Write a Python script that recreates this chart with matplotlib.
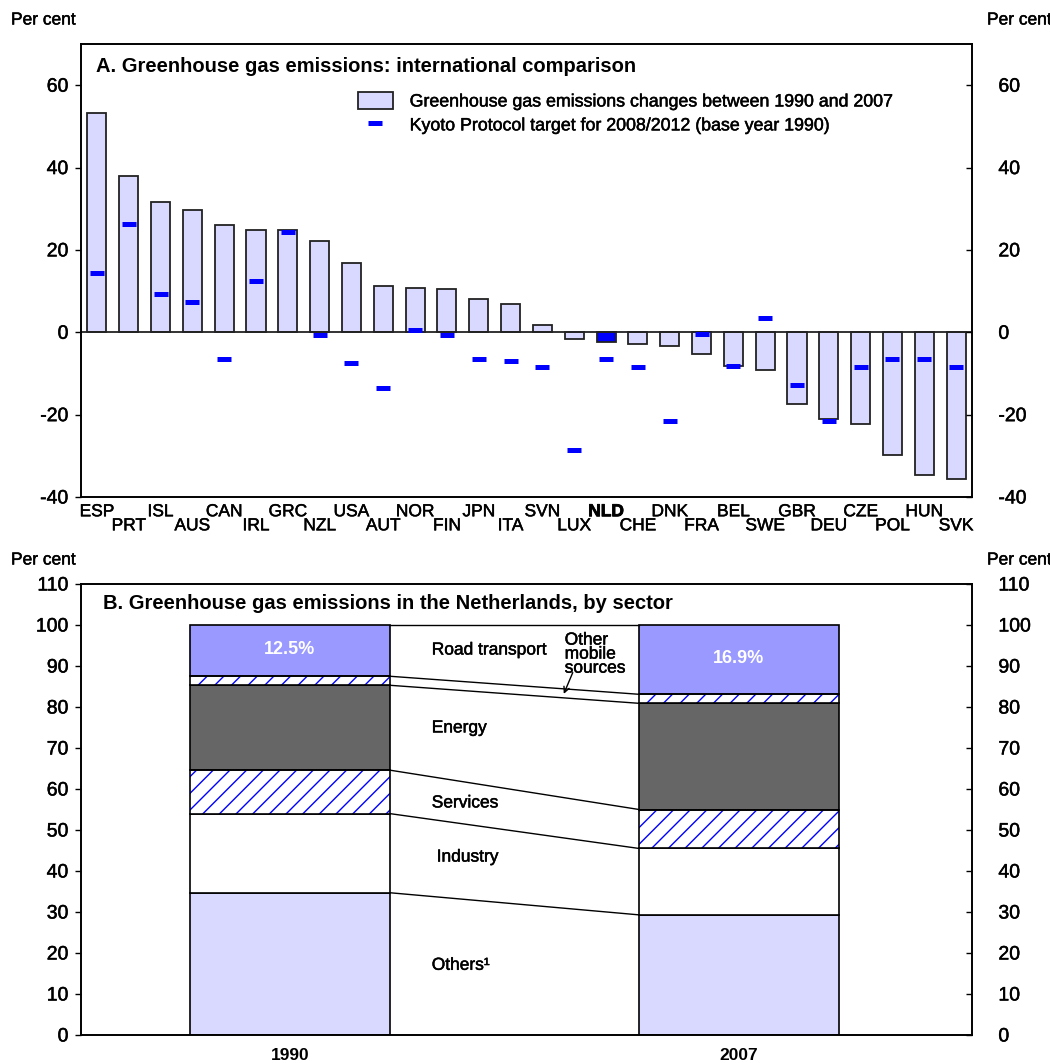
import numpy as np
import matplotlib
matplotlib.use('Agg')
import matplotlib.pyplot as plt
import matplotlib.patheffects as pe
from matplotlib.patches import Patch
from matplotlib.lines import Line2D

plt.rcParams['font.family'] = ['Liberation Sans', 'DejaVu Sans']
plt.rcParams['hatch.linewidth'] = 1.0
plt.rcParams['axes.unicode_minus'] = False

# panel A data
countries = ['ESP', 'PRT', 'ISL', 'AUS', 'CAN', 'IRL', 'GRC', 'NZL', 'USA', 'AUT',
             'NOR', 'FIN', 'JPN', 'ITA', 'SVN', 'LUX', 'NLD', 'CHE', 'DNK', 'FRA',
             'BEL', 'SWE', 'GBR', 'DEU', 'CZE', 'POL', 'HUN', 'SVK']
change = [53.3, 37.9, 31.6, 29.8, 26.0, 24.8, 24.8, 22.1, 16.7, 11.2,
          10.8, 10.5, 8.2, 6.9, 1.8, -1.7, -2.3, -2.8, -3.4, -5.3,
          -8.2, -9.2, -17.3, -21.1, -22.3, -29.9, -34.7, -35.7]
kyoto = [14.4, 26.3, 9.4, 7.4, -6.6, 12.4, 24.3, -0.6, -7.5, -13.6,
         0.5, -0.6, -6.6, -7.0, -8.5, -28.5, -6.6, -8.5, -21.5, -0.5,
         -8.1, 3.5, -12.9, -21.5, -8.5, -6.6, -6.6, -8.5]

# panel B data
sectors = ['Others¹', 'Industry', 'Services', 'Energy', 'Other mobile sources', 'Road transport']
years = ['1990', '2007']
share_1990 = [34.7, 19.3, 10.6, 20.7, 2.2, 12.5]
share_2007 = [29.3, 16.2, 9.5, 25.9, 2.2, 16.9]
road_labels = ['12.5%', '16.9%']

lav = '#D9D9FF'
blue = '#0000FF'
# slightly heavier text, like the original rendering
heavy = [pe.withStroke(linewidth=0.35, foreground='black')]

fig = plt.figure(figsize=(10.5, 10.63), dpi=100)
W, H = 1050, 1063

def px_axes(l, t, r, b):
    return fig.add_axes([l / W, 1 - b / H, (r - l) / W, (b - t) / H])

def heavy_ticks(a):
    for t in a.get_yticklabels():
        t.set_path_effects(heavy)

############## panel A
ax = px_axes(81, 44, 972, 497)
x = np.arange(len(countries))
cols = [blue if c == 'NLD' else lav for c in countries]
ax.bar(x, change, width=0.6, color=cols, edgecolor='#222222', linewidth=1.3, zorder=2)
ax.plot(x, kyoto, ls='none', marker='_', ms=9.5, mew=3.6, color=blue, zorder=3)
ax.axhline(0, color='#222222', lw=1.3, zorder=2)
ax.set_xlim(-0.5, len(countries) - 0.5)
ax.set_ylim(-40, 70)
ax.set_yticks([-40, -20, 0, 20, 40, 60])
ax.set_xticks([])
ax.tick_params(axis='y', direction='out', length=4, width=1, labelsize=14, pad=5)
for i, c in enumerate(countries):
    yy = -0.016 if i % 2 == 0 else -0.047
    if c == 'NLD':
        ax.text(i, yy, c, transform=ax.get_xaxis_transform(), ha='center', va='top',
                fontsize=12.5, fontweight='bold',
                path_effects=[pe.withStroke(linewidth=0.6, foreground='black')])
    else:
        ax.text(i, yy, c, transform=ax.get_xaxis_transform(), ha='center', va='top',
                fontsize=12.5, path_effects=heavy)
axr = ax.twinx()
axr.set_ylim(ax.get_ylim())
axr.set_yticks([-40, -20, 0, 20, 40, 60])
axr.tick_params(axis='y', direction='in', length=4, width=1, labelsize=14, pad=19)
heavy_ticks(ax)
heavy_ticks(axr)
for a in (ax, axr):
    for s in a.spines.values():
        s.set_linewidth(1.2)
ax.text(0.017, 0.972, 'A. Greenhouse gas emissions: international comparison',
        transform=ax.transAxes, fontsize=14.5, fontweight='bold', va='top')
handles = [Patch(facecolor=lav, edgecolor='#222222', linewidth=1.3),
           Line2D([], [], ls='none', marker='_', ms=9.5, mew=3.6, color=blue)]
leg = ax.legend(handles, ['Greenhouse gas emissions changes between 1990 and 2007',
                          'Kyoto Protocol target for 2008/2012 (base year 1990)'],
                loc='upper left', bbox_to_anchor=(0.303, 0.91), frameon=False,
                fontsize=12.8, handlelength=1.95, handleheight=1.1, handletextpad=0.95,
                labelspacing=0.3, borderaxespad=0)
for t in leg.get_texts():
    t.set_path_effects(heavy)

############## panel B
bx = px_axes(81, 584, 972, 1035)
pos = np.arange(len(years))
wid = 0.445
faces = [lav, 'white', 'white', '#666666', 'white', '#9999FF']
hatches = [None, None, '//', None, '//', None]
data = np.array([share_1990, share_2007])
bottoms = np.zeros(len(years))
for k in range(len(sectors)):
    vals = data[:, k]
    if hatches[k]:
        bx.bar(pos, vals, wid, bottom=bottoms, color=faces[k], edgecolor=blue,
               hatch=hatches[k], linewidth=0, zorder=2)
        bx.bar(pos, vals, wid, bottom=bottoms, facecolor='none', edgecolor='black',
               linewidth=1.2, zorder=3)
    else:
        bx.bar(pos, vals, wid, bottom=bottoms, color=faces[k], edgecolor='black',
               linewidth=1.2, zorder=2)
    bottoms = bottoms + vals
    # connector lines between the two columns
    bx.plot([pos[0] + wid / 2, pos[1] - wid / 2], [bottoms[0], bottoms[1]],
            color='black', lw=1, zorder=2)

for p, lab, base in zip(pos, road_labels, data[:, :5].sum(axis=1)):
    bx.text(p, (base + 100) / 2 + 0.3, lab, ha='center', va='center', color='white',
            fontsize=13, fontweight='bold')

lab_kw = dict(fontsize=12.5, va='center', path_effects=heavy)
bx.text(0.316, 93.9, 'Road transport', **lab_kw)
bx.text(0.316, 74.9, 'Energy', **lab_kw)
bx.text(0.316, 56.6, 'Services', **lab_kw)
bx.text(0.327, 43.4, 'Industry', **lab_kw)
bx.text(0.316, 17.0, 'Others¹', **lab_kw)
bx.text(0.612, 92.9, 'Other\nmobile\nsources', linespacing=0.92, **lab_kw)
bx.annotate('', xy=(0.610, 83.2), xytext=(0.630, 88.4),
            arrowprops=dict(arrowstyle='->', lw=1, color='black', shrinkA=0, shrinkB=0))
bx.text(0.025, 0.978, 'B. Greenhouse gas emissions in the Netherlands, by sector',
        transform=bx.transAxes, fontsize=14.5, fontweight='bold', va='top')

bx.set_xlim(-0.465, 1.519)
bx.set_ylim(0, 110)
bx.set_yticks(range(0, 111, 10))
bx.set_xticks(pos)
bx.set_xticklabels(years, fontsize=12.5, fontweight='bold')
bx.tick_params(axis='x', length=0, pad=9)
bx.tick_params(axis='y', direction='out', length=4, width=1, labelsize=14, pad=5)
bxr = bx.twinx()
bxr.set_ylim(bx.get_ylim())
bxr.set_yticks(range(0, 111, 10))
bxr.tick_params(axis='y', direction='in', length=4, width=1, labelsize=14, pad=19)
heavy_ticks(bx)
heavy_ticks(bxr)
for a in (bx, bxr):
    for s in a.spines.values():
        s.set_linewidth(1.2)

# unit labels
for yy in (20, 560):
    fig.text(11 / W, 1 - yy / H, 'Per cent', fontsize=12.5, va='center', ha='left',
             path_effects=heavy)
    fig.text(987 / W, 1 - yy / H, 'Per cent', fontsize=12.5, va='center', ha='left',
             path_effects=heavy)

fig.savefig('out.png', dpi=100)
